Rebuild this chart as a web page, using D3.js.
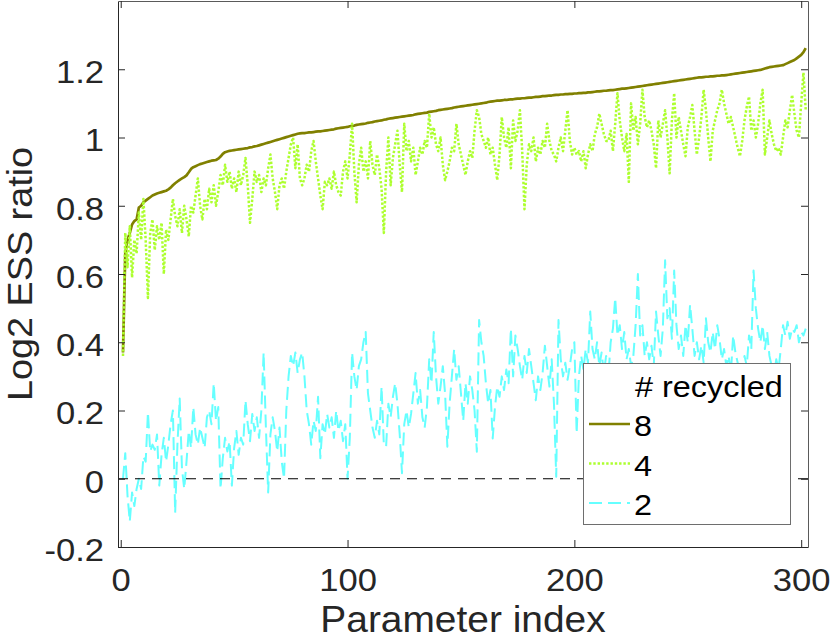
<!DOCTYPE html>
<html>
<head>
<meta charset="utf-8">
<script src="https://cdn.jsdelivr.net/npm/d3@7"></script>
<style>
  html, body { margin: 0; padding: 0; background: #fff; }
  svg { display: block; font-family: "Liberation Sans", Arial, Helvetica, sans-serif; }
</style>
</head>
<body>
<svg id="chart" width="830" height="639"></svg>
<script>
// log2 ESS ratio per parameter, sorted by the "8 recycled" run
const ess8 = [
  0.370,0.660,0.700,0.720,0.745,0.755,0.760,0.795,0.800,0.810,
  0.815,0.820,0.825,0.830,0.833,0.836,0.838,0.840,0.842,0.844,
  0.848,0.853,0.860,0.866,0.871,0.876,0.880,0.884,0.889,0.898,
  0.908,0.913,0.916,0.919,0.922,0.924,0.926,0.928,0.930,0.932,
  0.933,0.934,0.938,0.944,0.952,0.957,0.959,0.961,0.962,0.963,
  0.964,0.965,0.966,0.967,0.968,0.969,0.971,0.972,0.974,0.975,
  0.977,0.979,0.981,0.983,0.985,0.987,0.989,0.991,0.993,0.995,
  0.997,0.999,1.001,1.003,1.005,1.007,1.009,1.011,1.012,1.013,
  1.013,1.014,1.015,1.015,1.016,1.017,1.018,1.018,1.019,1.020,
  1.021,1.022,1.023,1.024,1.026,1.027,1.028,1.029,1.030,1.031,
  1.033,1.034,1.035,1.037,1.038,1.039,1.040,1.041,1.043,1.044,
  1.045,1.047,1.048,1.049,1.050,1.052,1.053,1.055,1.056,1.057,
  1.058,1.059,1.060,1.061,1.062,1.063,1.064,1.065,1.066,1.068,
  1.069,1.070,1.071,1.072,1.073,1.075,1.076,1.077,1.078,1.080,
  1.081,1.082,1.083,1.084,1.085,1.086,1.088,1.089,1.090,1.091,
  1.092,1.093,1.094,1.095,1.096,1.097,1.098,1.099,1.100,1.101,
  1.102,1.104,1.105,1.106,1.107,1.108,1.108,1.109,1.110,1.110,
  1.111,1.112,1.112,1.113,1.114,1.114,1.115,1.115,1.116,1.117,
  1.117,1.118,1.119,1.119,1.120,1.121,1.121,1.122,1.123,1.123,
  1.124,1.125,1.125,1.126,1.126,1.127,1.127,1.128,1.128,1.129,
  1.129,1.130,1.130,1.131,1.131,1.132,1.132,1.133,1.134,1.135,
  1.135,1.136,1.137,1.137,1.138,1.139,1.139,1.140,1.141,1.142,
  1.143,1.143,1.144,1.145,1.146,1.147,1.148,1.149,1.150,1.151,
  1.152,1.153,1.154,1.155,1.156,1.157,1.158,1.159,1.160,1.161,
  1.162,1.163,1.164,1.165,1.166,1.167,1.168,1.169,1.170,1.171,
  1.172,1.173,1.174,1.175,1.176,1.176,1.177,1.178,1.178,1.179,
  1.179,1.180,1.181,1.181,1.182,1.182,1.183,1.184,1.185,1.186,
  1.187,1.188,1.189,1.190,1.191,1.192,1.193,1.194,1.195,1.196,
  1.197,1.198,1.200,1.202,1.204,1.206,1.207,1.208,1.209,1.210,
  1.211,1.212,1.215,1.218,1.221,1.224,1.227,1.232,1.237,1.242,
  1.250,1.262
];

const ess4 = [
  0.36,0.72,0.62,0.74,0.59,0.70,0.66,0.78,0.70,0.82,
  0.70,0.53,0.72,0.76,0.67,0.74,0.70,0.75,0.60,0.73,
  0.70,0.76,0.82,0.77,0.74,0.79,0.72,0.80,0.76,0.71,
  0.80,0.78,0.83,0.88,0.80,0.76,0.82,0.79,0.85,0.81,
  0.86,0.80,0.84,0.89,0.86,0.92,0.87,0.90,0.85,0.88,
  0.84,0.90,0.86,0.89,0.94,0.86,0.75,0.82,0.90,0.87,
  0.89,0.84,0.88,0.86,0.91,0.95,0.88,0.84,0.79,0.86,
  0.88,0.85,0.90,0.94,0.98,1.00,0.91,0.98,0.88,0.86,
  0.88,0.92,0.90,0.96,0.99,0.93,0.88,0.83,0.79,0.87,
  0.86,0.88,0.85,0.90,0.86,0.84,0.83,0.90,0.93,0.88,
  0.95,1.04,0.90,0.81,0.92,0.97,0.90,0.93,0.88,0.99,
  0.92,0.89,0.95,0.91,0.85,0.72,0.90,1.00,0.86,0.94,
  0.98,1.02,0.92,0.84,1.04,0.96,0.99,0.93,0.97,0.89,
  0.93,0.97,0.95,0.99,0.97,1.07,1.00,1.03,0.98,0.96,
  1.00,0.92,0.875,0.90,0.93,0.97,0.96,1.04,0.98,0.95,
  0.92,0.89,0.93,0.96,0.94,1.02,1.08,1.06,1.01,0.99,
  0.97,1.00,0.95,0.97,0.92,0.875,0.95,1.06,1.00,0.97,
  1.03,0.91,1.05,0.99,1.02,1.08,0.96,0.79,0.92,0.98,
  0.96,1.00,0.93,0.97,0.95,0.99,0.97,1.04,0.99,0.96,
  0.95,0.93,0.97,1.00,0.96,1.02,1.08,0.99,0.95,0.97,
  0.95,0.96,0.93,0.96,0.91,0.95,0.98,0.96,1.01,1.03,
  1.07,1.04,1.01,0.99,0.99,1.02,0.96,1.04,1.13,1.05,
  1.00,0.96,1.01,0.87,1.10,1.02,1.06,0.98,1.04,1.14,
  1.06,1.03,1.05,1.02,0.98,0.91,1.05,1.00,1.04,1.08,
  1.00,0.895,1.05,1.13,1.00,1.06,1.02,0.98,0.945,1.03,
  1.06,1.095,1.02,0.95,1.00,1.06,1.14,1.08,1.00,0.93,
  1.02,1.05,1.08,1.10,1.14,1.10,1.07,1.04,1.06,1.03,
  1.00,0.97,0.945,0.99,1.05,1.09,1.12,1.02,1.05,1.00,
  1.04,1.10,1.14,0.95,1.00,1.05,1.01,0.98,0.96,0.97,
  0.95,1.00,1.05,1.03,1.08,1.125,1.07,1.02,1.00,1.10,
  1.19,1.08
];

const ess2 = [
  0.00,0.075,-0.05,-0.125,-0.04,-0.08,-0.03,0.00,-0.03,0.065,
  0.05,0.195,0.08,0.10,0.085,0.13,-0.02,0.07,0.12,0.05,
  0.10,0.16,0.20,-0.10,0.10,0.235,0.03,-0.03,0.05,0.14,
  0.09,0.21,0.13,0.10,0.15,0.12,0.09,0.18,0.20,0.16,
  0.28,0.17,0.21,-0.03,0.06,0.12,0.08,0.11,-0.02,0.09,
  0.14,0.07,0.12,0.10,0.23,0.16,0.11,0.19,0.14,0.18,
  0.12,0.20,0.37,0.15,-0.04,0.13,0.18,0.14,0.08,0.15,
  0.05,0.00,0.20,0.30,0.36,0.33,0.37,0.31,0.35,0.37,
  0.30,0.20,0.16,0.10,0.17,0.14,0.24,0.06,0.16,0.13,
  0.19,0.15,0.18,0.12,0.20,0.14,0.17,0.11,0.16,0.00,
  0.12,0.37,0.30,0.26,0.33,0.35,0.40,0.43,0.25,0.20,
  0.15,0.12,0.17,0.13,0.27,0.10,0.094,0.22,0.18,0.24,
  0.28,0.22,0.13,0.016,0.16,0.20,0.15,0.19,0.25,0.31,
  0.22,0.26,0.18,0.15,0.21,0.35,0.28,0.43,0.30,0.22,
  0.27,0.33,0.25,0.094,0.22,0.30,0.38,0.29,0.33,0.25,
  0.17,0.28,0.22,0.30,0.26,0.20,0.079,0.465,0.40,0.36,
  0.28,0.22,0.26,0.118,0.21,0.27,0.24,0.30,0.26,0.32,
  0.28,0.44,0.30,0.42,0.38,0.33,0.29,0.36,0.31,0.38,
  0.33,0.28,0.23,0.30,0.26,0.31,0.39,0.33,0.27,0.35,
  0.22,0.006,0.465,0.35,0.30,0.34,0.29,0.33,0.38,0.40,
  0.133,0.30,0.36,0.32,0.38,0.34,0.49,0.38,0.35,0.40,
  0.33,0.37,0.31,0.36,0.30,0.40,0.44,0.53,0.42,0.45,
  0.38,0.43,0.35,0.38,0.33,0.36,0.45,0.60,0.42,0.45,
  0.36,0.40,0.35,0.39,0.33,0.49,0.42,0.36,0.44,0.64,
  0.47,0.50,0.41,0.61,0.45,0.38,0.42,0.36,0.45,0.40,
  0.51,0.44,0.36,0.40,0.35,0.39,0.34,0.47,0.40,0.37,
  0.43,0.38,0.45,0.41,0.35,0.38,0.33,0.36,0.31,0.42,
  0.37,0.34,0.30,0.32,0.36,0.33,0.42,0.38,0.61,0.50,
  0.44,0.40,0.45,0.38,0.43,0.36,0.33,0.30,0.35,0.32,
  0.38,0.45,0.42,0.46,0.41,0.44,0.43,0.45,0.40,0.43,
  0.42,0.44
];

const seriesLabels = ['8', '4', '2'];
const legendTitle = '# recycled';
const xTicks = [0, 100, 200, 300];
const yTicks = [-0.2, 0, 0.2, 0.4, 0.6, 0.8, 1, 1.2];
const xLabel = 'Parameter index';
const yLabel = 'Log2 ESS ratio';

// ---------------------------------------------------------------------------
const svg = d3.select('#chart');
const plot = {left: 118, right: 808, top: 1, bottom: 547};
const axisColor = '#262626';
const stretch = 1.08; // reference glyphs are a little wider than Liberation Sans

const x = d3.scaleLinear().domain([-1.2, 303]).range([plot.left, plot.right]);
const y = d3.scaleLinear().domain([-0.2, 1.4]).range([plot.bottom, plot.top]);

const series = [
  {label: seriesLabels[0], values: ess8, color: '#808000', width: 2.7, dash: null},
  {label: seriesLabels[1], values: ess4, color: '#adff2f', width: 2.5, dash: '2.4,1.9'},
  {label: seriesLabels[2], values: ess2, color: '#66ffff', width: 2, dash: '13,6'}
];

function widen(sel) {
  sel.each(function() {
    const w = this.getComputedTextLength();
    d3.select(this).attr('textLength', w * stretch).attr('lengthAdjust', 'spacingAndGlyphs');
  });
}

const fmt = d => String(+d.toFixed(1));

// clip
svg.append('defs').append('clipPath').attr('id', 'plotClip')
  .append('rect')
  .attr('x', plot.left).attr('y', plot.top)
  .attr('width', plot.right - plot.left).attr('height', plot.bottom - plot.top);

// data lines
const line = d3.line().x((d, i) => x(i + 1)).y(d => y(d));
const lines = svg.append('g').attr('clip-path', 'url(#plotClip)');
series.forEach(s => {
  lines.append('path')
    .datum(s.values)
    .attr('d', line)
    .attr('fill', 'none')
    .attr('stroke', s.color)
    .attr('stroke-width', s.width)
    .attr('stroke-dasharray', s.dash)
    .attr('stroke-linejoin', 'round');
});

// zero reference line
lines.append('path')
  .datum([[-1.2, 0], [303, 0]])
  .attr('d', d3.line().x(d => x(d[0])).y(d => y(d[1])))
  .attr('stroke', '#000')
  .attr('stroke-width', 1.2)
  .attr('stroke-dasharray', '10,7');

// axes
const xAxis = d3.axisBottom(x).tickValues(xTicks).tickFormat(fmt)
  .tickSizeInner(-7).tickSizeOuter(0).tickPadding(21);
const yAxis = d3.axisLeft(y).tickValues(yTicks).tickFormat(fmt)
  .tickSizeInner(-7).tickSizeOuter(0).tickPadding(14);
const xTop = d3.axisTop(x).tickValues(xTicks).tickFormat('').tickSizeInner(-7).tickSizeOuter(0);
const yRight = d3.axisRight(y).tickValues(yTicks).tickFormat('').tickSizeInner(-7).tickSizeOuter(0);

const gx = svg.append('g').attr('transform', `translate(0,${plot.bottom})`).call(xAxis);
const gy = svg.append('g').attr('transform', `translate(${plot.left},0)`).call(yAxis);
const gt = svg.append('g').attr('transform', `translate(0,${plot.top})`).call(xTop);
const gr = svg.append('g').attr('transform', `translate(${plot.right},0)`).call(yRight);

[gx, gy, gt, gr].forEach(g => {
  g.select('.domain').attr('stroke', axisColor);
  g.selectAll('.tick line').attr('stroke', axisColor);
});
gt.select('.domain').attr('stroke', '#5a5a5a');
gr.select('.domain').attr('stroke', '#5a5a5a');

gx.selectAll('.tick text')
  .attr('fill', axisColor).attr('font-size', 32)
  .attr('font-family', '"Liberation Sans", Arial, sans-serif')
  .call(widen);
gy.selectAll('.tick text')
  .attr('fill', axisColor).attr('font-size', 32).attr('dy', '0.42em')
  .attr('font-family', '"Liberation Sans", Arial, sans-serif')
  .call(widen);

// axis labels
svg.append('text')
  .attr('x', (plot.left + plot.right) / 2).attr('y', 632)
  .attr('text-anchor', 'middle').attr('font-size', 36).attr('fill', axisColor)
  .text(xLabel).call(widen);

svg.append('text')
  .attr('transform', `translate(32,${(plot.top + plot.bottom) / 2}) rotate(-90)`)
  .attr('text-anchor', 'middle').attr('font-size', 35).attr('fill', axisColor)
  .text(yLabel).call(widen);

// legend
const legend = svg.append('g').attr('transform', 'translate(583,363)');
legend.append('rect')
  .attr('x', 0.5).attr('y', 0.5).attr('width', 207).attr('height', 161)
  .attr('fill', '#fff').attr('stroke', '#6e6e6e').attr('stroke-width', 1);
legend.append('text')
  .attr('x', 52).attr('y', 34).attr('font-size', 30).attr('fill', '#000')
  .text(legendTitle).call(widen);

const rows = legend.selectAll('.row').data(series).enter()
  .append('g').attr('class', 'row')
  .attr('transform', (d, i) => `translate(0,${61 + i * 39.5})`);
rows.append('line')
  .attr('x1', 6).attr('x2', 47).attr('y1', 0).attr('y2', 0)
  .attr('stroke', d => d.color)
  .attr('stroke-width', d => d.width)
  .attr('stroke-dasharray', d => d.dash);
rows.append('text')
  .attr('x', 51).attr('y', 12).attr('font-size', 30).attr('fill', '#000')
  .text(d => d.label).call(widen);
</script>
</body>
</html>
